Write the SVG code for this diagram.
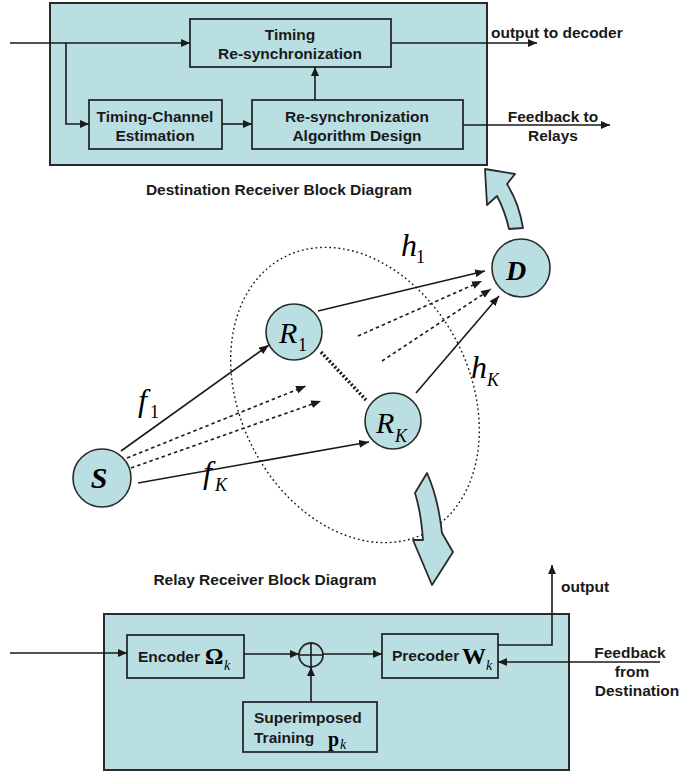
<svg xmlns="http://www.w3.org/2000/svg" width="685" height="772" viewBox="0 0 685 772">
<defs>
<marker id="ah" markerUnits="userSpaceOnUse" markerWidth="10" markerHeight="8" refX="10" refY="4" orient="auto"><path d="M0,0 L10,4 L0,8 Z" fill="#1a1a1a"/></marker>
<marker id="ahs" markerUnits="userSpaceOnUse" markerWidth="9" markerHeight="8" refX="9" refY="4" orient="auto"><path d="M0,0 L9,4 L0,8 Z" fill="#1a1a1a"/></marker>
<style>
.box{fill:#b9dfe3;stroke:#2a2a2a;stroke-width:2}
.blk{fill:#b9dfe3;stroke:#2a2a2a;stroke-width:1.8}
.node{fill:#b9dfe3;stroke:#2a2a2a;stroke-width:1.6}
.ln{fill:none;stroke:#1a1a1a;stroke-width:1.6}
.dash{fill:none;stroke:#1a1a1a;stroke-width:1.6;stroke-dasharray:3.5,3}
.lbl{font-family:"Liberation Sans",Arial,sans-serif;font-weight:bold;font-size:15.5px;fill:#1a1a1a}
.math{font-family:"Liberation Serif","Times New Roman",serif;font-style:italic;fill:#000}
.up{font-family:"Liberation Serif","Times New Roman",serif;font-style:normal;fill:#000}
.bm{font-family:"Liberation Serif","Times New Roman",serif;font-weight:bold;fill:#000}
.arr{fill:#b9dfe3;stroke:#2a2a2a;stroke-width:1.8;stroke-linejoin:round}
</style>
</defs>

<g id="dest-receiver">
<rect class="box" x="50" y="3" width="437" height="162"/>
<text class="lbl" x="279" y="195" text-anchor="middle">Destination Receiver Block Diagram</text>
</g>
<g id="timing-resync">
<rect class="blk" x="190" y="19" width="201" height="48"/>
<text class="lbl" x="290" y="40" text-anchor="middle">Timing</text>
<text class="lbl" x="290" y="59" text-anchor="middle">Re-synchronization</text>
</g>
<g id="timing-channel-est">
<rect class="blk" x="89" y="100" width="133" height="49"/>
<text class="lbl" x="155" y="122" text-anchor="middle">Timing-Channel</text>
<text class="lbl" x="155" y="141" text-anchor="middle">Estimation</text>
</g>
<g id="resync-algo">
<rect class="blk" x="252" y="100" width="211" height="49"/>
<text class="lbl" x="357" y="122" text-anchor="middle">Re-synchronization</text>
<text class="lbl" x="357" y="141" text-anchor="middle">Algorithm Design</text>
</g>
<g id="dest-labels">
<text class="lbl" x="491" y="38">output to decoder</text>
<text class="lbl" x="553" y="122" text-anchor="middle">Feedback to</text>
<text class="lbl" x="553" y="141" text-anchor="middle">Relays</text>
</g>

<g id="relay-receiver">
<rect class="box" x="104" y="614" width="465" height="156"/>
<text class="lbl" x="265" y="585" text-anchor="middle">Relay Receiver Block Diagram</text>
</g>
<g id="encoder">
<rect class="blk" x="127" y="635" width="117" height="43"/>
<text class="lbl" x="138" y="662">Encoder</text>
<text class="bm" x="205" y="664" font-size="23">Ω</text>
<text class="math" x="224" y="670" font-size="14">k</text>
</g>
<g id="sum">
<circle class="blk" cx="311" cy="655" r="12"/>
<path class="ln" d="M299,655 H323 M311,643 V667"/>
</g>
<g id="precoder">
<rect class="blk" x="382" y="634" width="116" height="44"/>
<text class="lbl" x="392" y="661">Precoder</text>
<text class="bm" x="462" y="664" font-size="24">W</text>
<text class="math" x="486" y="670" font-size="14">k</text>
</g>
<g id="superimposed">
<rect class="blk" x="243" y="702" width="134" height="50"/>
<text class="lbl" x="254" y="723">Superimposed</text>
<text class="lbl" x="254" y="743">Training</text>
<text class="bm" x="328" y="746" font-size="20">p</text>
<text class="math" x="340" y="749" font-size="14">k</text>
</g>
<g id="relay-labels">
<text class="lbl" x="561" y="592">output</text>
<text class="lbl" x="630" y="658" text-anchor="middle">Feedback</text>
<text class="lbl" x="632" y="677" text-anchor="middle">from</text>
<text class="lbl" x="637" y="696" text-anchor="middle">Destination</text>
</g>

<g id="cluster">
<ellipse cx="355" cy="395" rx="115" ry="155" transform="rotate(-27 355 395)" fill="none" stroke="#1a1a1a" stroke-width="1.4" stroke-dasharray="1.8,2.8"/>
</g>

<g id="connectors">
<path class="ln" d="M10,43 H190" marker-end="url(#ahs)"/>
<path class="ln" d="M66,43 V124 H89" marker-end="url(#ahs)"/>
<path class="ln" d="M222,124 H252" marker-end="url(#ahs)"/>
<path class="ln" d="M315,100 V67" marker-end="url(#ahs)"/>
<path class="ln" d="M391,43 H537" marker-end="url(#ahs)"/>
<path class="ln" d="M463,125 H610" marker-end="url(#ahs)"/>

<path class="ln" d="M10,653 H127" marker-end="url(#ahs)"/>
<path class="ln" d="M244,654 H299" marker-end="url(#ahs)"/>
<path class="ln" d="M323,654 H382" marker-end="url(#ahs)"/>
<path class="ln" d="M311,702 V667" marker-end="url(#ahs)"/>
<path class="ln" d="M498,645 H552 V565" marker-end="url(#ahs)"/>
<path class="ln" d="M660,662 H498" marker-end="url(#ahs)"/>

<path class="ln" d="M121,451 L269,345" marker-end="url(#ah)"/>
<path class="ln" d="M138,483 L369,442" marker-end="url(#ah)"/>
<path class="dash" d="M127,458 L306,386" marker-end="url(#ah)"/>
<path class="dash" d="M131,468 L321,401" marker-end="url(#ah)"/>
<path class="ln" d="M318,311 L485,271" marker-end="url(#ah)"/>
<path class="ln" d="M416,393 L499,296" marker-end="url(#ah)"/>
<path class="dash" d="M358,336 L482,281" marker-end="url(#ah)"/>
<path class="dash" d="M382,361 L491,289" marker-end="url(#ah)"/>
<path d="M321,352 L366,400" fill="none" stroke="#1a1a1a" stroke-width="3.5" stroke-dasharray="2,2"/>

<path class="arr" d="M485,169 L515,174 L507,184 Q519,203 523,228 L509,229 Q505,211 497,196 L487,205 Z"/>
<path class="arr" d="M427,473 Q438,497 442,533 L453,552 L432,585 L413,540 L423,540 Q421,512 415,493 Z"/>
</g>

<g id="node-S">
<circle class="node" cx="102" cy="478" r="29"/>
<text class="math" x="99" y="488" font-size="30" font-weight="bold" text-anchor="middle">S</text>
</g>
<g id="node-R1">
<circle class="node" cx="294" cy="332" r="28"/>
<text class="math" x="279" y="343" font-size="30">R</text>
<text class="up" x="298" y="351" font-size="18">1</text>
</g>
<g id="node-RK">
<circle class="node" cx="393" cy="421" r="28"/>
<text class="math" x="376" y="433" font-size="30">R</text>
<text class="math" x="395" y="442" font-size="18">K</text>
</g>
<g id="node-D">
<circle class="node" cx="521" cy="268" r="29"/>
<text class="math" x="516" y="280" font-size="28" font-weight="bold" text-anchor="middle">D</text>
</g>

<g id="edge-labels">
<text class="math" x="138" y="411" font-size="32">f</text>
<text class="up" x="150" y="418" font-size="18">1</text>
<text class="math" x="203" y="483" font-size="32">f</text>
<text class="math" x="215" y="491" font-size="18">K</text>
<text class="math" x="401" y="256" font-size="32">h</text>
<text class="up" x="416" y="263" font-size="18">1</text>
<text class="math" x="471" y="378" font-size="32">h</text>
<text class="math" x="487" y="386" font-size="18">K</text>
</g>
</svg>
